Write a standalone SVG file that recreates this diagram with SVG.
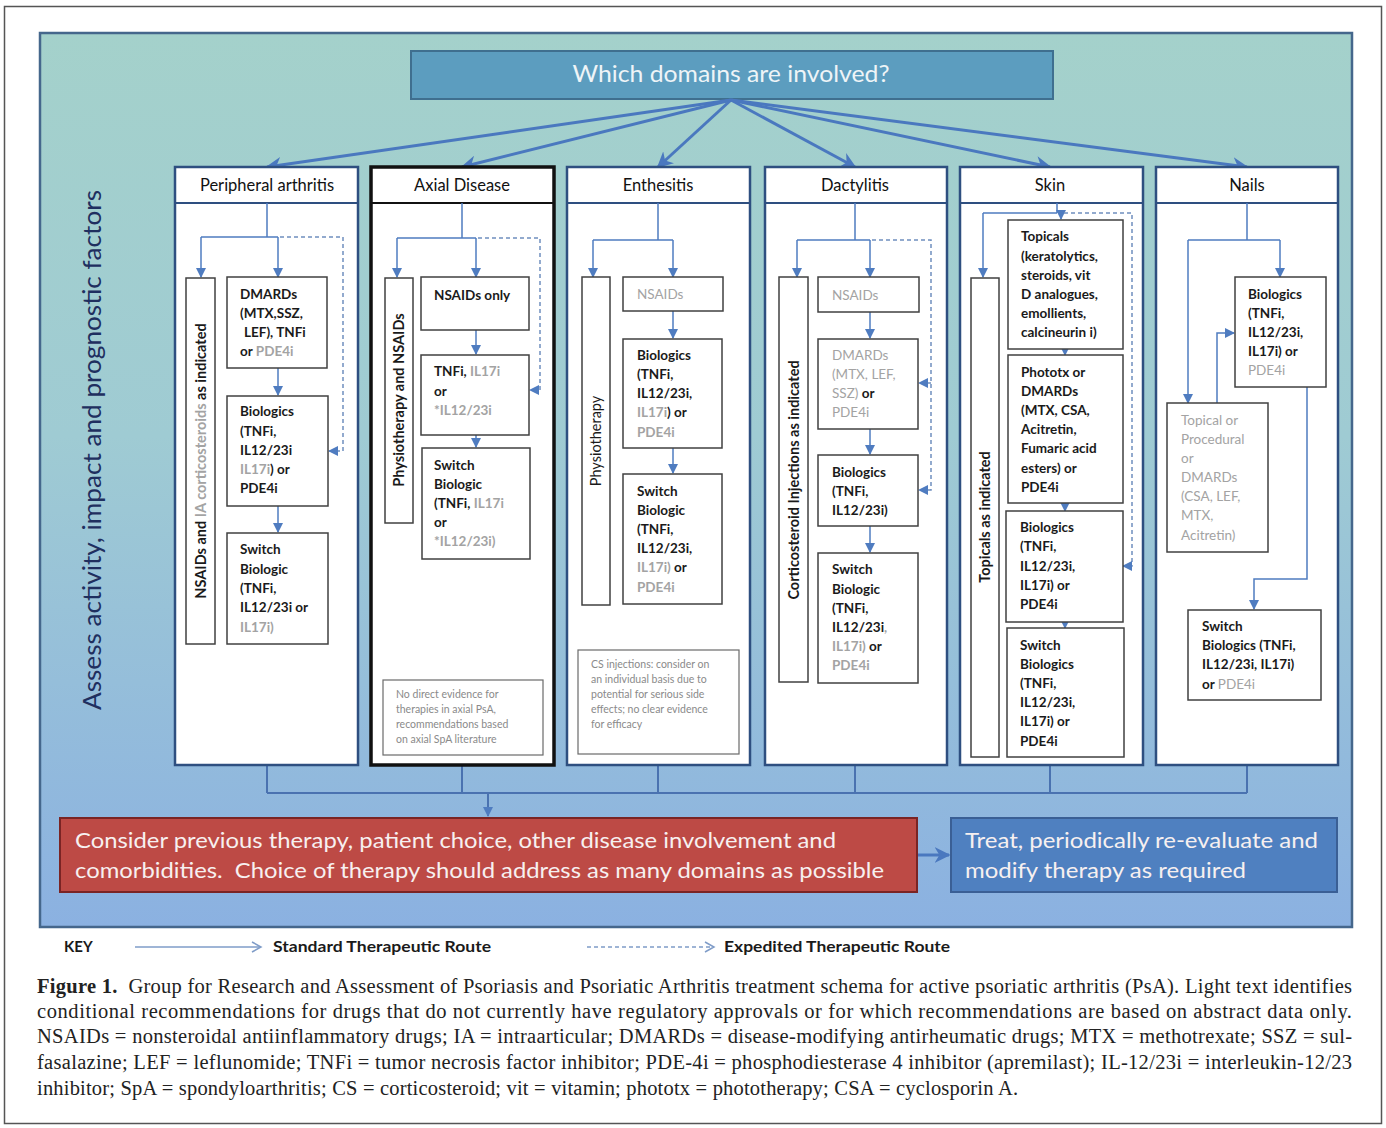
<svg xmlns="http://www.w3.org/2000/svg" width="1386" height="1128" viewBox="0 0 1386 1128">
<defs>
<linearGradient id="bg" x1="0" y1="0" x2="0" y2="1">
<stop offset="0" stop-color="#a4d1cb"/>
<stop offset="0.45" stop-color="#9fcbd3"/>
<stop offset="1" stop-color="#8bb1e1"/>
</linearGradient>
<marker id="ah" markerUnits="userSpaceOnUse" markerWidth="10" markerHeight="10" viewBox="0 0 10 10" refX="9" refY="5" orient="auto">
<path d="M0,0 L10,5 L0,10 z" fill="#4f7cc0"/>
</marker>
<marker id="ahB" markerUnits="userSpaceOnUse" markerWidth="16" markerHeight="16" viewBox="0 0 10 10" refX="9" refY="5" orient="auto">
<path d="M0,0 L10,5 L0,10 L3,5 z" fill="#4a78bf"/>
</marker>
<style>
.col{fill:#fff;stroke:#2e4f80;stroke-width:2.5}
.box{fill:#fff;stroke:#404040;stroke-width:1.5}
.note{fill:#fff;stroke:#6a6a6a;stroke-width:1.2}
.hd{font-family:Lato,"Liberation Sans",sans-serif;font-size:16.5px;fill:#111;text-anchor:middle}
.t{font-family:Lato,"Liberation Sans",sans-serif;font-size:13.5px;font-weight:bold;fill:#1a1a1a}
.g{fill:#a3a3a3}
.n{font-family:Lato,"Liberation Sans",sans-serif;font-size:10.5px;fill:#8a8a8a}
.v{font-family:Lato,"Liberation Sans",sans-serif;font-size:14.5px;font-weight:bold;fill:#1a1a1a;text-anchor:middle}
.c{fill:none;stroke:#4f7cc0;stroke-width:1.5}
.ca{fill:none;stroke:#4f7cc0;stroke-width:1.5;marker-end:url(#ah)}
.d{fill:none;stroke:#6f8fbf;stroke-width:1.5;stroke-dasharray:4 3}
.da{fill:none;stroke:#6f8fbf;stroke-width:1.5;stroke-dasharray:4 3;marker-end:url(#ah)}
.fan{fill:none;stroke:#4a78bf;stroke-width:3;marker-end:url(#ahB)}
.bl{fill:none;stroke:#4a72b0;stroke-width:2}
.big{font-family:Lato,"Liberation Sans",sans-serif;font-size:21.5px;fill:#f7f0f0;white-space:pre}
.key{font-family:Lato,"Liberation Sans",sans-serif;font-size:15px;font-weight:bold;fill:#1a1a1a}
.cap{font-family:"Liberation Serif",serif;font-size:20.5px;fill:#222;white-space:pre}
</style>
</defs>
<rect x="4.5" y="6.5" width="1377" height="1117" fill="#fff" stroke="#555" stroke-width="1.5"/>
<rect x="40" y="33" width="1312" height="894" fill="url(#bg)" stroke="#45678c" stroke-width="2.5"/>
<text transform="translate(101,450) rotate(-90)" text-anchor="middle" font-family="Lato,'Liberation Sans',sans-serif" font-size="25" fill="#1f2f5f" textLength="520" lengthAdjust="spacingAndGlyphs">Assess activity, impact and prognostic factors</text>

<g id="n-domains">
<rect x="411" y="51" width="642" height="48" fill="#5c9dbf" stroke="#3f6f8f" stroke-width="2"/>
<text x="731" y="82" text-anchor="middle" font-family="Lato,'Liberation Sans',sans-serif" font-size="23" fill="#eef4f7" textLength="317" lengthAdjust="spacingAndGlyphs">Which domains are involved?</text>
</g>

<g id="connectors">
<path class="fan" d="M731,100 L267,167"/>
<path class="fan" d="M731,100 L462,167"/>
<path class="fan" d="M731,100 L658,167"/>
<path class="fan" d="M731,100 L855,167"/>
<path class="fan" d="M731,100 L1050,167"/>
<path class="fan" d="M731,100 L1247,167"/>
<path class="bl" d="M267,765 V793 M462,765 V793 M658,765 V793 M855,765 V793 M1050,765 V793 M1247,765 V793 M267,793 H1247"/>
<path class="bl" d="M488,793 V816" marker-end="url(#ah)"/>
<path d="M918,855 H949" stroke="#4a78bf" stroke-width="3" fill="none" marker-end="url(#ahB)"/>
</g>

<g id="col-peripheral">
<rect class="col" x="175" y="167" width="183" height="598"/>
<line x1="175" y1="203" x2="358" y2="203" stroke="#2e4f80" stroke-width="2"/>
<text class="hd" x="267" y="191">Peripheral arthritis</text>
<path class="c" d="M267,203 V237 M201,237 H278"/>
<path class="ca" d="M201,237 V277"/>
<path class="ca" d="M278,237 V277"/>
<path class="da" d="M280,237 H343 V451 H329"/>
<path class="ca" d="M278,368 V395"/>
<path class="ca" d="M278,506 V532"/>
<rect class="box" x="186" y="278" width="29" height="366"/>
<text class="v" transform="translate(206,461) rotate(-90)">NSAIDs and <tspan class="g">IA corticosteroids</tspan> as indicated</text>
<rect class="box" x="227" y="277" width="100" height="91"/>
<text class="t" x="240" y="299">DMARDs</text>
<text class="t" x="240" y="318">(MTX,SSZ,</text>
<text class="t" x="244" y="337">LEF), TNFi</text>
<text class="t" x="240" y="356">or <tspan class="g">PDE4i</tspan></text>
<rect class="box" x="227" y="396" width="101" height="110"/>
<text class="t" x="240" y="416">Biologics</text>
<text class="t" x="240" y="436">(TNFi,</text>
<text class="t" x="240" y="455">IL12/23i</text>
<text class="t" x="240" y="474"><tspan class="g">IL17i</tspan>) or</text>
<text class="t" x="240" y="493">PDE4i</text>
<rect class="box" x="227" y="533" width="101" height="111"/>
<text class="t" x="240" y="554">Switch</text>
<text class="t" x="240" y="574">Biologic</text>
<text class="t" x="240" y="593">(TNFi,</text>
<text class="t" x="240" y="612">IL12/23i or</text>
<text class="t" x="240" y="632"><tspan class="g">IL17i)</tspan></text>
</g>

<g id="col-axial">
<rect x="371" y="167" width="183" height="598" fill="#fff" stroke="#111" stroke-width="3.5"/>
<line x1="371" y1="203" x2="554" y2="203" stroke="#111" stroke-width="2"/>
<text class="hd" x="462" y="191">Axial Disease</text>
<path class="c" d="M462,203 V238 M397,238 H476"/>
<path class="ca" d="M397,238 V277"/>
<path class="ca" d="M476,238 V277"/>
<path class="da" d="M478,238 H540 V390 H530"/>
<path class="ca" d="M476,330 V354"/>
<path class="ca" d="M476,435 V447"/>
<rect class="box" x="385" y="278" width="28" height="245"/>
<text class="v" transform="translate(404,400) rotate(-90)">Physiotherapy and NSAIDs</text>
<rect class="box" x="421" y="277" width="108" height="53"/>
<text class="t" x="434" y="300">NSAIDs only</text>
<rect class="box" x="421" y="355" width="108" height="80"/>
<text class="t" x="434" y="376">TNFi, <tspan class="g">IL17i</tspan></text>
<text class="t" x="434" y="396">or</text>
<text class="t" x="434" y="415"><tspan class="g">*IL12/23i</tspan></text>
<rect class="box" x="422" y="448" width="108" height="111"/>
<text class="t" x="434" y="470">Switch</text>
<text class="t" x="434" y="489">Biologic</text>
<text class="t" x="434" y="508">(TNFi, <tspan class="g">IL17i</tspan></text>
<text class="t" x="434" y="527">or</text>
<text class="t" x="434" y="546"><tspan class="g">*IL12/23i)</tspan></text>
<rect class="note" x="383" y="680" width="160" height="75"/>
<text class="n" x="396" y="698">No direct evidence for</text>
<text class="n" x="396" y="713">therapies in axial PsA,</text>
<text class="n" x="396" y="728">recommendations based</text>
<text class="n" x="396" y="743">on axial SpA literature</text>
</g>

<g id="col-enthesitis">
<rect class="col" x="567" y="167" width="183" height="598"/>
<line x1="567" y1="203" x2="750" y2="203" stroke="#2e4f80" stroke-width="2"/>
<text class="hd" x="658" y="191">Enthesitis</text>
<path class="c" d="M658,203 V240 M593,240 H673"/>
<path class="ca" d="M593,240 V277"/>
<path class="ca" d="M673,240 V277"/>
<path class="ca" d="M673,311 V338"/>
<path class="ca" d="M673,448 V473"/>
<rect class="box" x="582" y="277" width="28" height="328"/>
<text class="v g" transform="translate(601,441) rotate(-90)" style="font-weight:normal">Physiotherapy</text>
<rect class="box" x="623" y="277" width="100" height="34"/>
<text class="t g" x="637" y="299" style="font-weight:normal">NSAIDs</text>
<rect class="box" x="623" y="339" width="99" height="109"/>
<text class="t" x="637" y="360">Biologics</text>
<text class="t" x="637" y="379">(TNFi,</text>
<text class="t" x="637" y="398">IL12/23i,</text>
<text class="t" x="637" y="417"><tspan class="g">IL17i</tspan>) or</text>
<text class="t" x="637" y="437"><tspan class="g">PDE4i</tspan></text>
<rect class="box" x="623" y="474" width="99" height="130"/>
<text class="t" x="637" y="496">Switch</text>
<text class="t" x="637" y="515">Biologic</text>
<text class="t" x="637" y="534">(TNFi,</text>
<text class="t" x="637" y="553">IL12/23i,</text>
<text class="t" x="637" y="572"><tspan class="g">IL17i)</tspan> or</text>
<text class="t" x="637" y="592"><tspan class="g">PDE4i</tspan></text>
<rect class="note" x="578" y="650" width="161" height="104"/>
<text class="n" x="591" y="668">CS injections: consider on</text>
<text class="n" x="591" y="683">an individual basis due to</text>
<text class="n" x="591" y="698">potential for serious side</text>
<text class="n" x="591" y="713">effects; no clear evidence</text>
<text class="n" x="591" y="728">for efficacy</text>
</g>

<g id="col-dactylitis">
<rect class="col" x="765" y="167" width="182" height="598"/>
<line x1="765" y1="203" x2="947" y2="203" stroke="#2e4f80" stroke-width="2"/>
<text class="hd" x="855" y="191">Dactylitis</text>
<path class="c" d="M855,203 V240 M797,240 H870"/>
<path class="ca" d="M797,240 V277"/>
<path class="ca" d="M870,240 V277"/>
<path class="da" d="M872,240 H931 V490 H919"/>
<path class="da" d="M931,383 H919"/>
<path class="ca" d="M870,312 V338"/>
<path class="ca" d="M870,429 V454"/>
<path class="ca" d="M870,526 V552"/>
<rect class="box" x="779" y="277" width="29" height="405"/>
<text class="v" transform="translate(799,480) rotate(-90)">Corticosteroid Injections as indicated</text>
<rect class="box" x="818" y="277" width="101" height="35"/>
<text class="t g" x="832" y="300" style="font-weight:normal">NSAIDs</text>
<rect class="box" x="818" y="339" width="100" height="90"/>
<text class="t" x="832" y="360"><tspan class="g" style="font-weight:normal">DMARDs</tspan></text>
<text class="t" x="832" y="379"><tspan class="g" style="font-weight:normal">(MTX, LEF,</tspan></text>
<text class="t" x="832" y="398"><tspan class="g" style="font-weight:normal">SSZ)</tspan> or</text>
<text class="t" x="832" y="417"><tspan class="g" style="font-weight:normal">PDE4i</tspan></text>
<rect class="box" x="818" y="455" width="100" height="71"/>
<text class="t" x="832" y="477">Biologics</text>
<text class="t" x="832" y="496">(TNFi,</text>
<text class="t" x="832" y="515">IL12/23i)</text>
<rect class="box" x="818" y="553" width="100" height="130"/>
<text class="t" x="832" y="574">Switch</text>
<text class="t" x="832" y="594">Biologic</text>
<text class="t" x="832" y="613">(TNFi,</text>
<text class="t" x="832" y="632">IL12/23i<tspan class="g">,</tspan></text>
<text class="t" x="832" y="651"><tspan class="g">IL17i)</tspan> or</text>
<text class="t" x="832" y="670"><tspan class="g">PDE4i</tspan></text>
</g>

<g id="col-skin">
<rect class="col" x="960" y="167" width="183" height="598"/>
<line x1="960" y1="203" x2="1143" y2="203" stroke="#2e4f80" stroke-width="2"/>
<text class="hd" x="1050" y="191">Skin</text>
<path class="c" d="M1057,203 V213 M983,213 H1057"/>
<path class="ca" d="M983,213 V277"/>
<path class="ca" d="M1061,213 V219"/>
<path class="da" d="M1064,213 H1132 V566 H1123"/>
<path class="ca" d="M1065,345 V355"/>
<path class="ca" d="M1065,500 V511"/>
<path class="ca" d="M1065,618 V628"/>
<rect class="box" x="971" y="278" width="28" height="479"/>
<text class="v" transform="translate(990,517) rotate(-90)">Topicals as indicated</text>
<rect class="box" x="1008" y="220" width="115" height="129"/>
<text class="t" x="1021" y="241">Topicals</text>
<text class="t" x="1021" y="261">(keratolytics,</text>
<text class="t" x="1021" y="280">steroids, vit</text>
<text class="t" x="1021" y="299">D analogues,</text>
<text class="t" x="1021" y="318">emollients,</text>
<text class="t" x="1021" y="337">calcineurin i)</text>
<rect class="box" x="1008" y="355" width="115" height="148"/>
<text class="t" x="1021" y="377">Phototx or</text>
<text class="t" x="1021" y="396">DMARDs</text>
<text class="t" x="1021" y="415">(MTX, CSA,</text>
<text class="t" x="1021" y="434">Acitretin,</text>
<text class="t" x="1021" y="453">Fumaric acid</text>
<text class="t" x="1021" y="473">esters) or</text>
<text class="t" x="1021" y="492">PDE4i</text>
<rect class="box" x="1006" y="511" width="117" height="111"/>
<text class="t" x="1020" y="532">Biologics</text>
<text class="t" x="1020" y="551">(TNFi,</text>
<text class="t" x="1020" y="571">IL12/23i,</text>
<text class="t" x="1020" y="590">IL17i) or</text>
<text class="t" x="1020" y="609">PDE4i</text>
<rect class="box" x="1007" y="628" width="117" height="129"/>
<text class="t" x="1020" y="650">Switch</text>
<text class="t" x="1020" y="669">Biologics</text>
<text class="t" x="1020" y="688">(TNFi,</text>
<text class="t" x="1020" y="707">IL12/23i,</text>
<text class="t" x="1020" y="726">IL17i) or</text>
<text class="t" x="1020" y="746">PDE4i</text>
</g>

<g id="col-nails">
<rect class="col" x="1156" y="167" width="182" height="598"/>
<line x1="1156" y1="203" x2="1338" y2="203" stroke="#2e4f80" stroke-width="2"/>
<text class="hd" x="1247" y="191">Nails</text>
<path class="c" d="M1247,203 V240 M1188,240 H1280"/>
<path class="ca" d="M1280,240 V277"/>
<path class="ca" d="M1188,240 V403"/>
<path class="ca" d="M1217,403 V333 H1234"/>
<path class="ca" d="M1307,387 V579 H1254 V609"/>
<rect class="box" x="1235" y="277" width="91" height="110"/>
<text class="t" x="1248" y="299">Biologics</text>
<text class="t" x="1248" y="318">(TNFi,</text>
<text class="t" x="1248" y="337">IL12/23i,</text>
<text class="t" x="1248" y="356">IL17i) or</text>
<text class="t" x="1248" y="375"><tspan class="g" style="font-weight:normal">PDE4i</tspan></text>
<rect class="box" x="1167" y="403" width="101" height="149"/>
<text class="t g" x="1181" y="425" style="font-weight:normal">Topical or</text>
<text class="t g" x="1181" y="444" style="font-weight:normal">Procedural</text>
<text class="t g" x="1181" y="463" style="font-weight:normal">or</text>
<text class="t g" x="1181" y="482" style="font-weight:normal">DMARDs</text>
<text class="t g" x="1181" y="501" style="font-weight:normal">(CSA, LEF,</text>
<text class="t g" x="1181" y="520" style="font-weight:normal">MTX,</text>
<text class="t g" x="1181" y="540" style="font-weight:normal">Acitretin)</text>
<rect class="box" x="1188" y="610" width="133" height="90"/>
<text class="t" x="1202" y="631">Switch</text>
<text class="t" x="1202" y="650">Biologics (TNFi,</text>
<text class="t" x="1202" y="669">IL12/23i, IL17i)</text>
<text class="t" x="1202" y="689">or <tspan class="g" style="font-weight:normal">PDE4i</tspan></text>
</g>

<g id="n-consider">
<rect x="60" y="818" width="857" height="74" fill="#bd4a45" stroke="#7a2424" stroke-width="2"/>
<text class="big" x="75" y="848" textLength="761" lengthAdjust="spacingAndGlyphs">Consider previous therapy, patient choice, other disease involvement and</text>
<text class="big" x="75" y="878" textLength="809" lengthAdjust="spacingAndGlyphs">comorbidities.&#160; Choice of therapy should address as many domains as possible</text>
</g>

<g id="n-treat">
<rect x="951" y="818" width="386" height="74" fill="#4f80c0" stroke="#3a5f95" stroke-width="2"/>
<text class="big" x="965" y="848" textLength="353" lengthAdjust="spacingAndGlyphs">Treat, periodically re-evaluate and</text>
<text class="big" x="965" y="878" textLength="281" lengthAdjust="spacingAndGlyphs">modify therapy as required</text>
</g>

<g id="key">
<text class="key" x="64" y="952">KEY</text>
<path d="M135,947 H260" stroke="#7f9cc8" stroke-width="1.5" fill="none"/>
<path d="M252,942 L261,947 L252,952" stroke="#7f9cc8" stroke-width="1.5" fill="none"/>
<text class="key" x="273" y="952" textLength="218" lengthAdjust="spacingAndGlyphs">Standard Therapeutic Route</text>
<path d="M587,947 H712" stroke="#7f9cc8" stroke-width="1.5" fill="none" stroke-dasharray="4 3"/>
<path d="M705,942 L714,947 L705,952" stroke="#7f9cc8" stroke-width="1.5" fill="none"/>
<text class="key" x="724" y="952" textLength="226" lengthAdjust="spacingAndGlyphs">Expedited Therapeutic Route</text>
</g>

<g id="caption">
<text class="cap" x="37" y="993" textLength="1315" lengthAdjust="spacing"><tspan font-weight="bold">Figure 1.</tspan>&#160; Group for Research and Assessment of Psoriasis and Psoriatic Arthritis treatment schema for active psoriatic arthritis (PsA). Light text identifies</text>
<text class="cap" x="37" y="1018" textLength="1315" lengthAdjust="spacing">conditional recommendations for drugs that do not currently have regulatory approvals or for which recommendations are based on abstract data only.</text>
<text class="cap" x="37" y="1043" textLength="1315" lengthAdjust="spacing">NSAIDs = nonsteroidal antiinflammatory drugs; IA = intraarticular; DMARDs = disease-modifying antirheumatic drugs; MTX = methotrexate; SSZ = sul-</text>
<text class="cap" x="37" y="1069" textLength="1315" lengthAdjust="spacing">fasalazine; LEF = leflunomide; TNFi = tumor necrosis factor inhibitor; PDE-4i = phosphodiesterase 4 inhibitor (apremilast); IL-12/23i = interleukin-12/23</text>
<text class="cap" x="37" y="1095" textLength="981" lengthAdjust="spacing">inhibitor; SpA = spondyloarthritis; CS = corticosteroid; vit = vitamin; phototx = phototherapy; CSA = cyclosporin A.</text>
</g>
</svg>
